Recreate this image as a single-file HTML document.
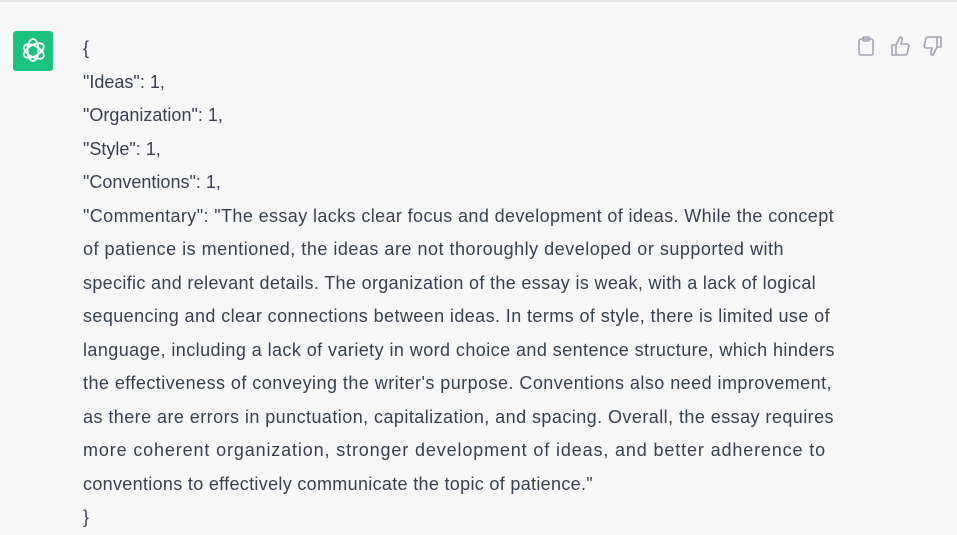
<!DOCTYPE html>
<html><head><meta charset="utf-8">
<style>
body{margin:0;width:957px;height:533px;background:#f7f7f8;overflow:hidden;font-family:"Liberation Sans",Arial,sans-serif;}
#topline{position:absolute;left:0;top:0;width:957px;height:2px;background:#e5e5e6;}
#avatar{position:absolute;left:13px;top:31px;width:40px;height:40px;background:#19c37d;border-radius:3px;}
#msg{position:absolute;left:83px;top:32px;color:#374151;font-size:18px;line-height:33.5px;}
#msg div{white-space:nowrap;}
.ic{position:absolute;top:36px;}
</style></head><body>
<div id="topline"></div>
<div id="avatar">
<svg width="40" height="40" viewBox="0 0 40 40" fill="none" stroke="#fff" stroke-width="1.8">
<g transform="translate(20,20)">
<ellipse rx="5.5" ry="11" transform="rotate(0) translate(0,-1)"/>
<ellipse rx="5.5" ry="11" transform="rotate(60) translate(0,-1)"/>
<ellipse rx="5.5" ry="11" transform="rotate(120) translate(0,-1)"/>
</g></svg></div>
<div id="msg">
<div data-w="0">{</div>
<div data-w="0">"Ideas": 1,</div>
<div data-w="0">"Organization": 1,</div>
<div data-w="0">"Style": 1,</div>
<div data-w="0">"Conventions": 1,</div>
<div data-w="751">"Commentary": "The essay lacks clear focus and development of ideas. While the concept</div>
<div data-w="701">of patience is mentioned, the ideas are not thoroughly developed or supported with</div>
<div data-w="733">specific and relevant details. The organization of the essay is weak, with a lack of logical</div>
<div data-w="747">sequencing and clear connections between ideas. In terms of style, there is limited use of</div>
<div data-w="752">language, including a lack of variety in word choice and sentence structure, which hinders</div>
<div data-w="749">the effectiveness of conveying the writer's purpose. Conventions also need improvement,</div>
<div data-w="751">as there are errors in punctuation, capitalization, and spacing. Overall, the essay requires</div>
<div data-w="743">more coherent organization, stronger development of ideas, and better adherence to</div>
<div data-w="510">conventions to effectively communicate the topic of patience."</div>
<div data-w="0">}</div>
</div>
<svg class="ic" style="left:857px" width="18" height="20" viewBox="0 0 18 20" fill="none" stroke="#a3a3b5" stroke-width="1.6"><rect x="2" y="3" width="14" height="16" rx="2"/><rect x="6" y="1" width="6" height="4" rx="1"/></svg>
<svg class="ic" style="left:890px" width="20" height="20" viewBox="0 0 20 20" fill="none" stroke="#a3a3b5" stroke-width="1.6"><path d="M2 9h4v10H2zM6 9l4-8c2 0 2.5 1.5 2 3l-1 4h6c1.5 0 2 1 1.7 2.3l-1.5 7C17 18.5 16.300 19 15 19H6"/></svg>
<svg class="ic" style="left:923px" width="20" height="20" viewBox="0 0 20 20" fill="none" stroke="#a3a3b5" stroke-width="1.6"><path d="M18 11h-4V1h4zM14 11l-4 8c-2 0-2.5-1.5-2-3l1-4H3c-1.5 0-2-1-1.7-2.3l1.5-7C3 1.5 3.7 1 5 1h9"/></svg>
<script>
document.querySelectorAll('#msg div').forEach(function(d){
  var w=+d.getAttribute('data-w');
  
  
  if(!w)return;
  var s=document.createElement('span');s.textContent=d.textContent;d.textContent='';d.appendChild(s);
  var cur=s.getBoundingClientRect().width;var n=s.textContent.length;
  s.style.letterSpacing=((w-cur)/n)+'px';
});
</script>
</body></html>
